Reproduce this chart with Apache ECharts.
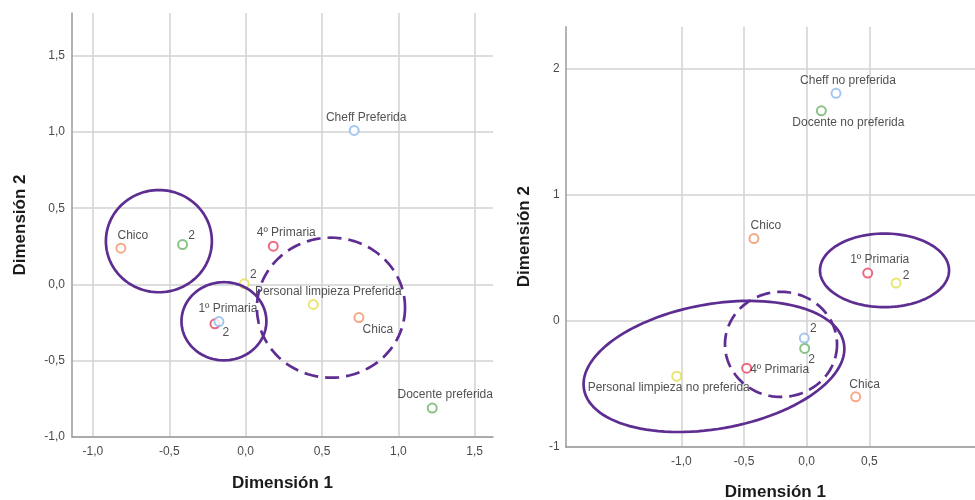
<!DOCTYPE html>
<html>
<head>
<meta charset="utf-8">
<script src="https://cdn.jsdelivr.net/npm/echarts@6/dist/echarts.min.js"></script>
<style>
  html, body { margin: 0; padding: 0; background: #fff; }
  #chart { width: 975px; height: 500px; }
</style>
</head>
<body>
<div id="chart"></div>
<script>
// ---- Panel A: preferred staff (category points, Dimensión 1 / Dimensión 2) ----
const leftNames = ['Chico', '2', '4º Primaria', 'Cheff Preferida', '2',
  'Personal limpieza Preferida', 'Chica', '1º Primaria', '2', 'Docente preferida'];
const leftVar = ['Sexo', 'Docente', 'Curso', 'Cheff', 'Limpieza',
  'Limpieza', 'Sexo', 'Curso', 'Cheff', 'Docente'];
const leftX = [-0.817, -0.413, 0.181, 0.711, -0.009, 0.443, 0.742, -0.201, -0.175, 1.222];
const leftY = [0.238, 0.262, 0.251, 1.010, 0.004, -0.131, -0.217, -0.258, -0.243, -0.810];

// ---- Panel B: non-preferred staff ----
const rightNames = ['Cheff no preferida', 'Docente no preferida', 'Chico', '1º Primaria', '2',
  '2', '2', '4º Primaria', 'Personal limpieza no preferida', 'Chica'];
const rightVar = ['Cheff', 'Docente', 'Sexo', 'Curso', 'Limpieza',
  'Cheff', 'Docente', 'Curso', 'Limpieza', 'Sexo'];
const rightX = [0.234, 0.117, -0.421, 0.487, 0.713, -0.019, -0.016, -0.479, -1.037, 0.391];
const rightY = [1.805, 1.666, 0.652, 0.378, 0.299, -0.138, -0.220, -0.377, -0.440, -0.604];

// tick values
const leftXTicks = [-1.0, -0.5, 0.0, 0.5, 1.0, 1.5];
const leftYTicks = [-1.0, -0.5, 0.0, 0.5, 1.0, 1.5];
const rightXTicks = [-1.0, -0.5, 0.0, 0.5];
const rightYTicks = [-1, 0, 1, 2];

// grouping ellipses: [centerX, centerY, radiusX, radiusY, tiltDeg, dashed]
const leftGroups = [
  [-0.568, 0.284, 0.347, 0.335, 0, 0],
  [-0.142, -0.241, 0.278, 0.256, 0, 0],
  [0.559, -0.152, 0.485, 0.459, 0, 1]
];
const rightGroups = [
  [0.621, 0.400, 0.515, 0.292, 0, 0],
  [-0.740, -0.363, 1.053, 0.495, 10, 0],
  [-0.205, -0.188, 0.447, 0.417, 0, 1]
];

// colours per variable
const varColors = {
  Sexo: '#F4926A', Docente: '#6DB36A', Curso: '#E9445F',
  Cheff: '#8FB8EA', Limpieza: '#E4DF4E'
};

// label placement (offset of the text centre from the marker)
const leftLabelOffsets = [[12, -12], [9, -9], [13, -14], [12, -13], [9, -9],
  [15, -13], [19, 12], [13, -15], [7, 11], [13, -13]];
const rightLabelOffsets = [[12, -13], [27, 12], [12, -13], [12, -13], [10, -7],
  [9, -9], [7, 11], [33, 1], [-8, 12], [9, -12]];

const FONT = '"Liberation Sans", Arial, sans-serif';
const PURPLE = '#5E2D91';

function pointData(names, vars, xs, ys, offsets) {
  return names.map((n, i) => ({
    name: n,
    value: [xs[i], ys[i]],
    itemStyle: { borderColor: varColors[vars[i]], color: varColors[vars[i]] },
    label: { offset: offsets[i] }
  }));
}

function ellipseRender(params, api) {
  const c = api.coord([api.value(0), api.value(1)]);
  const s = api.size([api.value(2), api.value(3)]);
  const a = api.value(4) * Math.PI / 180;
  const ux = Math.cos(a), uy = -Math.sin(a);
  const vx = Math.sin(a), vy = Math.cos(a);
  const pts = [];
  for (let k = 0; k < 120; k++) {
    const t = k / 120 * Math.PI * 2;
    const p = s[0] * Math.cos(t), q = s[1] * Math.sin(t);
    pts.push([c[0] + p * ux + q * vx, c[1] + p * uy + q * vy]);
  }
  return {
    type: 'polygon',
    shape: { points: pts },
    silent: true,
    style: {
      fill: 'none', stroke: PURPLE, lineWidth: 2.7,
      lineDash: api.value(5) ? [14, 7] : null
    }
  };
}

const fmtDec = v => v.toFixed(1).replace('.', ',');

function xAxisCfg(gridIndex, min, max, ticks, fmt, gap, shift) {
  return {
    type: 'value', gridIndex, min, max,
    name: 'Dimensión 1', nameLocation: 'middle', nameGap: gap,
    nameTextStyle: { fontFamily: FONT, fontSize: 17, fontWeight: 'bold', color: '#1a1a1a',
      padding: [0, 0, 0, shift] },
    axisLine: { show: true, onZero: false, lineStyle: { color: '#9a9a9a', width: 1.5 } },
    axisTick: { show: false, customValues: ticks },
    axisLabel: { customValues: ticks, formatter: fmt, margin: 9,
      fontFamily: FONT, fontSize: 12, color: '#4a4a4a' },
    splitLine: { show: true, lineStyle: { color: '#d2d2d2', width: 1.5 } }
  };
}
function yAxisCfg(gridIndex, min, max, ticks, fmt, gap, margin) {
  return {
    type: 'value', gridIndex, min, max,
    name: 'Dimensión 2', nameLocation: 'middle', nameGap: gap,
    nameTextStyle: { fontFamily: FONT, fontSize: 17, fontWeight: 'bold', color: '#1a1a1a' },
    axisLine: { show: true, onZero: false, lineStyle: { color: '#9a9a9a', width: 1.5 } },
    axisTick: { show: false, customValues: ticks },
    axisLabel: { customValues: ticks, formatter: fmt, margin,
      fontFamily: FONT, fontSize: 12, color: '#4a4a4a' },
    splitLine: { show: true, lineStyle: { color: '#d2d2d2', width: 1.5 } }
  };
}

const pointSeriesBase = {
  type: 'scatter',
  symbol: 'emptyCircle',
  symbolSize: 9,
  itemStyle: { borderWidth: 1.8 },
  label: {
    show: true, position: 'inside', formatter: '{b}',
    fontFamily: FONT, fontSize: 12, color: '#262626',
    align: 'center', verticalAlign: 'middle'
  },
  emphasis: { disabled: true },
  z: 3
};

const chart = echarts.init(document.getElementById('chart'));
chart.setOption({
  animation: false,
  backgroundColor: '#ffffff',
  grid: [
    { left: 72, top: 13, width: 421, height: 424, outerBoundsMode: 'none' },
    { left: 565.7, top: 26.7, width: 409.3, height: 420, outerBoundsMode: 'none' }
  ],
  xAxis: [
    xAxisCfg(0, -1.137, 1.62, leftXTicks, fmtDec, 38, 0),
    xAxisCfg(1, -1.923, 1.343, rightXTicks, fmtDec, 37, 10)
  ],
  yAxis: [
    yAxisCfg(0, -1.0, 1.78, leftYTicks, fmtDec, 43, 7),
    yAxisCfg(1, -1, 2.334, rightYTicks, v => String(Math.round(v)), 33, 6)
  ],
  series: [
    Object.assign({}, pointSeriesBase, {
      xAxisIndex: 0, yAxisIndex: 0,
      data: pointData(leftNames, leftVar, leftX, leftY, leftLabelOffsets)
    }),
    Object.assign({}, pointSeriesBase, {
      xAxisIndex: 1, yAxisIndex: 1,
      data: pointData(rightNames, rightVar, rightX, rightY, rightLabelOffsets)
    }),
    {
      type: 'custom', xAxisIndex: 0, yAxisIndex: 0, z: 4,
      renderItem: ellipseRender, data: leftGroups, silent: true
    },
    {
      type: 'custom', xAxisIndex: 1, yAxisIndex: 1, z: 4,
      renderItem: ellipseRender, data: rightGroups, silent: true
    }
  ]
});
</script>
</body>
</html>
